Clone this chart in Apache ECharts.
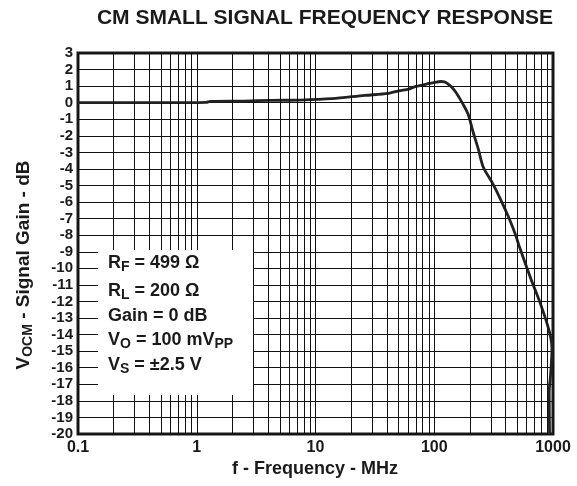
<!DOCTYPE html>
<html>
<head>
<meta charset="utf-8">
<script src="https://cdn.jsdelivr.net/npm/echarts@6/dist/echarts.min.js"></script>
<style>
  html, body { margin: 0; padding: 0; background: #fff; }
  #chart { width: 577px; height: 486px; }
</style>
</head>
<body>
<div id="chart"></div>
<script>
// curve (MHz, dB)
const freqMHz = [0.1, 0.5, 1.2, 1.3, 2.5, 4.2, 7.4, 13.7, 26, 41, 50, 61, 70, 91, 97, 114, 122, 130, 140, 153,
  175, 193, 213, 235, 259, 306, 360, 425, 485, 518, 652, 794, 935, 980, 953, 929, 935];
const gainDb = [0, 0, 0.02, 0.08, 0.1, 0.14, 0.16, 0.24, 0.44, 0.56, 0.72, 0.82, 0.98, 1.16, 1.2, 1.28, 1.26, 1.14, 0.95, 0.6,
  -0.1, -0.7, -1.8, -2.8, -3.9, -4.8, -5.8, -6.95, -8.0, -8.64, -10.64, -12.25, -13.86, -14.86, -16.47, -17.47, -20];

const xTickLabels = ['0.1', '1', '10', '100', '1000'];
const yMin = -20, yMax = 3;

// 2..9 lines in every decade
const minorFreqs = [];
[0.1, 1, 10, 100].forEach(d => {
  for (let k = 2; k <= 9; k++) minorFreqs.push(+(d * k).toPrecision(3));
});

const legendLines = [
  ['R', 'F', ' = 499 Ω'],
  ['R', 'L', ' = 200 Ω'],
  ['Gain = 0 dB', '', ''],
  ['V', 'O', ' = 100 mV', 'PP'],
  ['V', 'S', ' = ±2.5 V']
];

const FONT = '"Liberation Sans", Arial, Helvetica, sans-serif';
const rich = (size, sub) => ({
  m: { fontFamily: FONT, fontWeight: 'bold', fontSize: size, lineHeight: 22, fill: '#1a1a1a' },
  s: { fontFamily: FONT, fontWeight: 'bold', fontSize: sub, lineHeight: 12, verticalAlign: 'bottom', fill: '#1a1a1a' }
});

function richLine(parts) {
  let out = '{m|' + parts[0] + '}';
  if (parts[1]) out += '{s|' + parts[1] + '}';
  if (parts[2]) out += '{m|' + parts[2] + '}';
  if (parts[3]) out += '{s|' + parts[3] + '}';
  return out;
}

const legendY = [263, 291, 316, 340, 365];

const chart = echarts.init(document.getElementById('chart'), null, { renderer: 'canvas' });

const graphics = [
  {
    type: 'text', x: 325, y: 18, z: 20,
    style: { text: 'CM SMALL SIGNAL FREQUENCY RESPONSE', fontFamily: FONT, fontWeight: 'bold', fontSize: 21,
      fill: '#1a1a1a', align: 'center', verticalAlign: 'middle' }
  },
  {
    type: 'text', x: 315, y: 469, z: 20,
    style: { text: 'f - Frequency - MHz', fontFamily: FONT, fontWeight: 'bold', fontSize: 18,
      fill: '#1a1a1a', align: 'center', verticalAlign: 'middle' }
  },
  {
    type: 'text', x: 24, y: 265, z: 20, rotation: Math.PI / 2,
    style: { text: '{m|V}{s|OCM}{m| - Signal Gain - dB}', rich: rich(19, 14), align: 'center', verticalAlign: 'middle' }
  },
  {
    type: 'rect', z: 10, shape: { x: 98, y: 250, width: 155, height: 145 },
    style: { fill: '#fff' }
  }
];
legendLines.forEach((p, i) => {
  graphics.push({
    type: 'text', x: 108, y: legendY[i], z: 20,
    style: { text: richLine(p), rich: rich(18, 14), align: 'left', verticalAlign: 'middle' }
  });
});

const option = {
  animation: false,
  backgroundColor: '#fff',
  grid: {
    left: 78, right: 24, top: 53, bottom: 52,
    show: true, borderColor: '#1a1a1a', borderWidth: 3, backgroundColor: 'transparent'
  },
  xAxis: {
    type: 'log', logBase: 10, min: 0.1, max: 1000,
    axisLine: { show: false }, axisTick: { show: false },
    splitLine: { show: true, lineStyle: { color: '#111', width: 1 } },
    axisLabel: {
      margin: 6, color: '#1a1a1a', fontFamily: FONT, fontWeight: 'bold', fontSize: 16,
      formatter: v => {
        const i = Math.round(Math.log10(v)) + 1;
        return xTickLabels[i] !== undefined ? xTickLabels[i] : '';
      }
    }
  },
  yAxis: {
    type: 'value', min: yMin, max: yMax, interval: 1,
    axisLine: { show: false }, axisTick: { show: false },
    splitLine: { show: true, lineStyle: { color: '#111', width: 1 } },
    axisLabel: { margin: 5, color: '#1a1a1a', fontFamily: FONT, fontWeight: 'bold', fontSize: 15 }
  },
  series: [
    {
      type: 'line', data: [], z: 1, silent: true,
      markLine: {
        silent: true, symbol: ['none', 'none'], label: { show: false },
        lineStyle: { color: '#111', width: 1, type: 'solid' },
        data: minorFreqs.map(f => ({ xAxis: f }))
      }
    },
    {
      name: 'VOCM', type: 'line', z: 3,
      data: freqMHz.map((f, i) => [f, gainDb[i]]),
      showSymbol: false, smooth: 0.3,
      lineStyle: { color: '#222', width: 2.8 }
    }
  ],
  graphic: graphics
};

chart.setOption(option);
</script>
</body>
</html>
